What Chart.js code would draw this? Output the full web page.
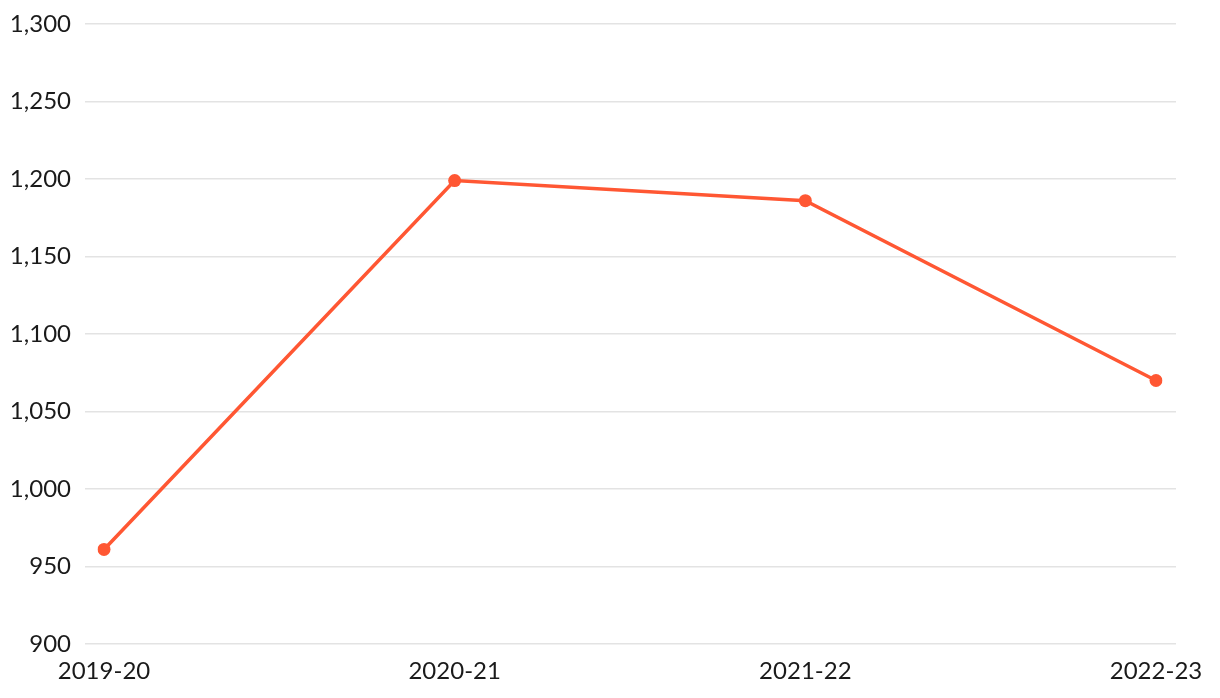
<!DOCTYPE html>
<html>
<head>
<meta charset="utf-8">
<script src="https://cdn.jsdelivr.net/npm/chart.js@4.4.1/dist/chart.umd.min.js"></script>
<style>
  html, body { margin: 0; padding: 0; background: #fff; }
  #wrap { width: 1220px; height: 698px; }
</style>
</head>
<body>
<div id="wrap"><canvas id="c" width="1220" height="698"></canvas></div>
<script>
const categories = ['2019-20', '2020-21', '2021-22', '2022-23'];
const values = [961, 1199, 1186, 1070];
const yMin = 900, yMax = 1300, yStep = 50;

const lineColor = '#FF5733';
const gridColor = '#e3e3e3';
const fontSpec = { family: 'Lato, "Open Sans", sans-serif', size: 24 };

new Chart(document.getElementById('c'), {
  type: 'line',
  data: {
    labels: categories,
    datasets: [{
      data: values,
      borderColor: lineColor,
      backgroundColor: lineColor,
      borderWidth: 3.5,
      pointRadius: 6.5,
      pointHoverRadius: 6.5,
      pointBackgroundColor: lineColor,
      pointBorderWidth: 0,
      tension: 0,
      yAxisID: 'y'
    }]
  },
  options: {
    responsive: false,
    animation: false,
    devicePixelRatio: 1,
    layout: { padding: { left: 12, right: 44, top: 24, bottom: 0 } },
    plugins: { legend: { display: false }, tooltip: { enabled: false } },
    scales: {
      x: {
        grid: { display: false },
        border: { display: false },
        ticks: { color: '#1a1a1a', font: fontSpec, padding: 5, maxRotation: 0 },
        afterFit: s => { s.height = 54; s.paddingLeft = 0; s.paddingRight = 0; }
      },
      y: {
        position: 'left',
        min: yMin, max: yMax,
        grid: { color: gridColor, lineWidth: 1.5, tickLength: 19, drawTicks: true },
        border: { display: false },
        ticks: { stepSize: yStep, color: '#1a1a1a', font: fontSpec, padding: 14 },
        afterFit: s => { s.width = 92; s.paddingTop = 0; s.paddingBottom = 0; }
      },
      y1: {
        position: 'right',
        min: yMin, max: yMax,
        grid: { color: gridColor, lineWidth: 1.5, tickLength: 20, drawOnChartArea: false, drawTicks: true },
        border: { display: false },
        ticks: { stepSize: yStep, display: false },
        afterFit: s => { s.width = 20; s.paddingTop = 0; s.paddingBottom = 0; }
      }
    }
  }
});
</script>
</body>
</html>
